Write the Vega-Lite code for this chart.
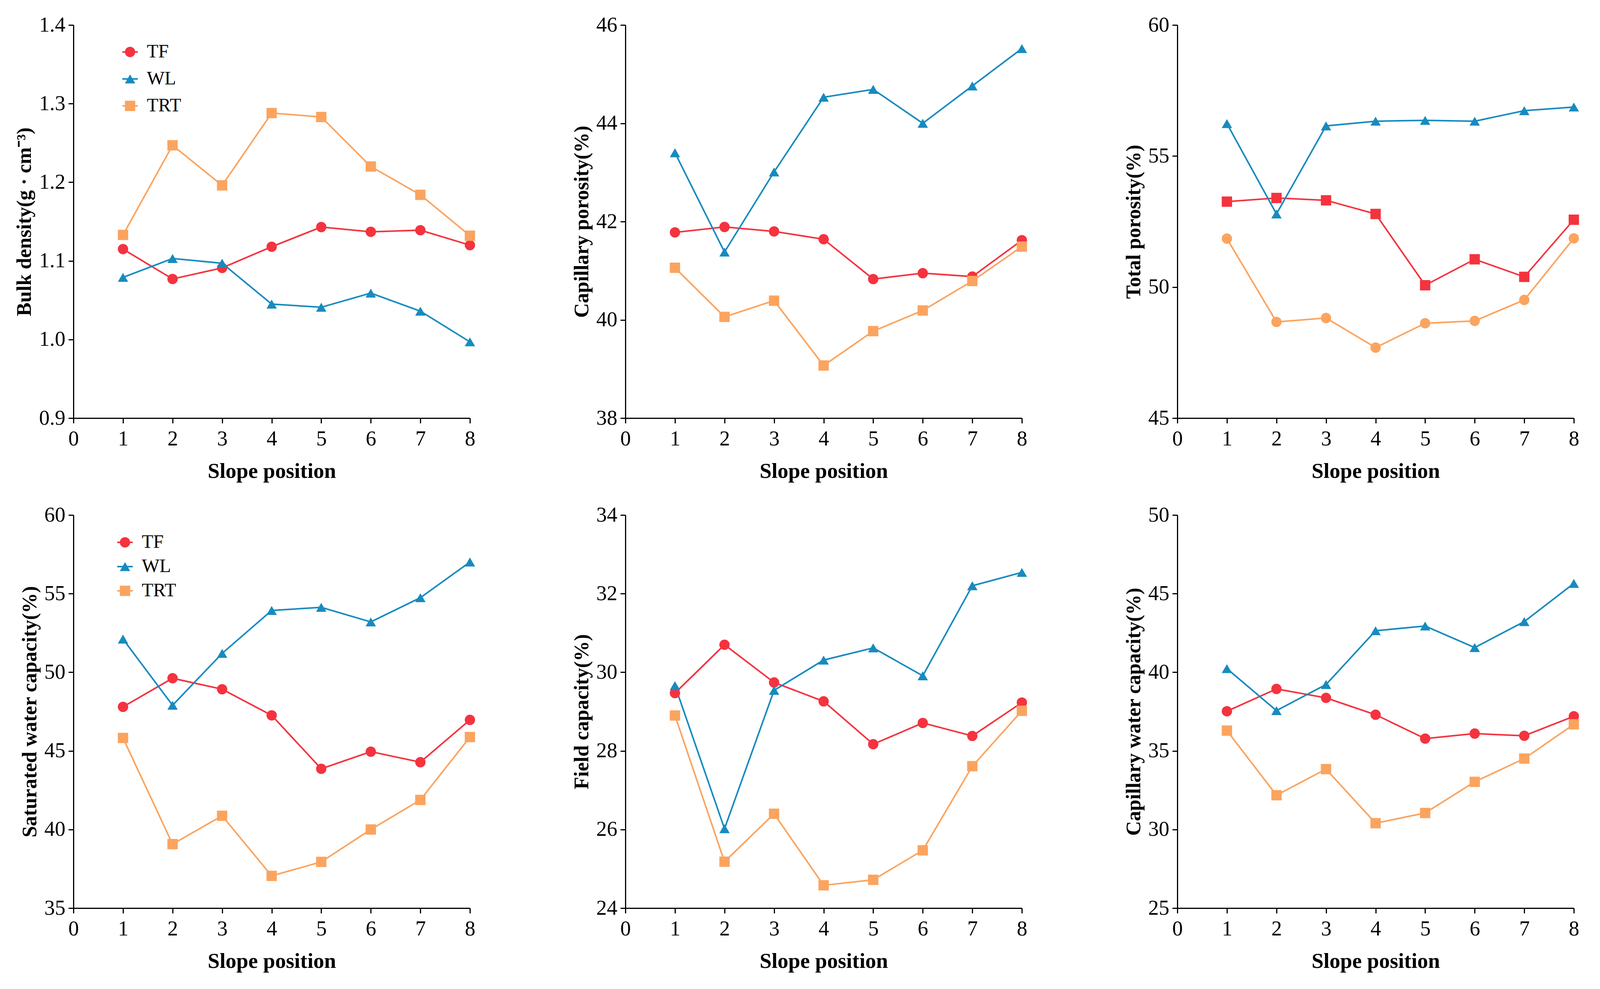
{
  "$schema": "https://vega.github.io/schema/vega-lite/v6.json",
  "padding": {"left": 36, "top": 37, "right": 5, "bottom": 5},
  "background": "white",
  "datasets": {
    "soil": [
      {"s": "TF", "x": 1, "bd": 1.115, "cp": 41.78, "tp": 53.26, "swc": 47.80, "fc": 29.47, "cwc": 37.52},
      {"s": "TF", "x": 2, "bd": 1.077, "cp": 41.89, "tp": 53.40, "swc": 49.62, "fc": 30.70, "cwc": 38.94},
      {"s": "TF", "x": 3, "bd": 1.091, "cp": 41.80, "tp": 53.31, "swc": 48.92, "fc": 29.74, "cwc": 38.37},
      {"s": "TF", "x": 4, "bd": 1.118, "cp": 41.64, "tp": 52.79, "swc": 47.26, "fc": 29.26, "cwc": 37.30},
      {"s": "TF", "x": 5, "bd": 1.143, "cp": 40.83, "tp": 50.07, "swc": 43.86, "fc": 28.17, "cwc": 35.78},
      {"s": "TF", "x": 6, "bd": 1.137, "cp": 40.95, "tp": 51.06, "swc": 44.95, "fc": 28.71, "cwc": 36.10},
      {"s": "TF", "x": 7, "bd": 1.139, "cp": 40.88, "tp": 50.39, "swc": 44.28, "fc": 28.38, "cwc": 35.96},
      {"s": "TF", "x": 8, "bd": 1.120, "cp": 41.62, "tp": 52.57, "swc": 46.97, "fc": 29.23, "cwc": 37.20},
      {"s": "WL", "x": 1, "bd": 1.079, "cp": 43.40, "tp": 56.24, "swc": 52.11, "fc": 29.66, "cwc": 40.23},
      {"s": "WL", "x": 2, "bd": 1.103, "cp": 41.38, "tp": 52.79, "swc": 47.90, "fc": 26.02, "cwc": 37.56},
      {"s": "WL", "x": 3, "bd": 1.097, "cp": 43.01, "tp": 56.15, "swc": 51.20, "fc": 29.54, "cwc": 39.22},
      {"s": "WL", "x": 4, "bd": 1.045, "cp": 44.53, "tp": 56.33, "swc": 53.93, "fc": 30.31, "cwc": 42.64},
      {"s": "WL", "x": 5, "bd": 1.041, "cp": 44.69, "tp": 56.36, "swc": 54.13, "fc": 30.62, "cwc": 42.94},
      {"s": "WL", "x": 6, "bd": 1.059, "cp": 44.00, "tp": 56.33, "swc": 53.20, "fc": 29.91, "cwc": 41.57},
      {"s": "WL", "x": 7, "bd": 1.036, "cp": 44.76, "tp": 56.73, "swc": 54.74, "fc": 32.20, "cwc": 43.22},
      {"s": "WL", "x": 8, "bd": 0.997, "cp": 45.52, "tp": 56.87, "swc": 57.01, "fc": 32.54, "cwc": 45.65},
      {"s": "TRT", "x": 1, "bd": 1.133, "cp": 41.06, "tp": 51.85, "swc": 45.82, "fc": 28.90, "cwc": 36.29},
      {"s": "TRT", "x": 2, "bd": 1.247, "cp": 40.06, "tp": 48.67, "swc": 39.07, "fc": 25.18, "cwc": 32.18},
      {"s": "TRT", "x": 3, "bd": 1.196, "cp": 40.39, "tp": 48.82, "swc": 40.87, "fc": 26.40, "cwc": 33.84},
      {"s": "TRT", "x": 4, "bd": 1.288, "cp": 39.07, "tp": 47.69, "swc": 37.05, "fc": 24.58, "cwc": 30.40},
      {"s": "TRT", "x": 5, "bd": 1.283, "cp": 39.77, "tp": 48.62, "swc": 37.94, "fc": 24.72, "cwc": 31.05},
      {"s": "TRT", "x": 6, "bd": 1.220, "cp": 40.19, "tp": 48.71, "swc": 40.00, "fc": 25.47, "cwc": 33.03},
      {"s": "TRT", "x": 7, "bd": 1.184, "cp": 40.79, "tp": 49.51, "swc": 41.88, "fc": 27.61, "cwc": 34.51},
      {"s": "TRT", "x": 8, "bd": 1.132, "cp": 41.49, "tp": 51.86, "swc": 45.88, "fc": 29.02, "cwc": 36.69}
    ]
  },
  "data": {"name": "soil"},
  "columns": 3,
  "spacing": {"row": 248, "column": 398},
  "bounds": "flush",
  "resolve": {
    "scale": {"x": "independent", "y": "independent", "shape": "independent", "color": "independent", "stroke": "independent"},
    "legend": {"color": "independent", "shape": "independent", "stroke": "independent"}
  },
  "concat": [
    {
      "width": 1015, "height": 1006,
      "resolve": {"scale": {"shape": "independent", "color": "independent"}, "legend": {"shape": "independent", "color": "independent"}},
      "layer": [
        {"transform": [{"filter": "false"}],
         "mark": {"type": "point", "filled": true, "size": 700, "opacity": 1, "strokeWidth": 0},
         "encoding": {
           "x": {"field": "x", "type": "quantitative", "scale": {"domain": [0, 8], "nice": false}, "axis": {"values": [0,1,2,3,4,5,6,7,8], "format": "d", "title": "Slope position"}},
           "y": {"field": "bd", "type": "quantitative", "scale": {"domain": [0.9, 1.4], "nice": false, "zero": false}, "axis": {"values": [0.9,1.0,1.1,1.2,1.3,1.4], "format": ".1f", "title": "Bulk density(g · cm⁻³)"}},
           "color": {"field": "s", "type": "nominal", "scale": {"domain": ["TF","WL","TRT"], "range": ["#f4333f","#178bbf","#fba45f"]},
             "legend": {"title": null, "orient": "none", "legendX": 121, "legendY": 45, "rowPadding": 21}},
           "shape": {"field": "s", "type": "nominal", "scale": {"domain": ["TF","WL","TRT"], "range": ["M1,0A1,1 0 1,1 -1,0A1,1 0 1,1 1,0ZM-1.5,-0.15H1.5V0.15H-1.5Z", "M0,-0.866L1,0.866L-1,0.866ZM-1.5,-0.15H1.5V0.15H-1.5Z", "M-1,-1H1V1H-1ZM-1.5,-0.15H1.5V0.15H-1.5Z"]},
             "legend": {"title": null, "orient": "none", "legendX": 121, "legendY": 45, "rowPadding": 21}}
         }},
        {"mark": {"type": "line", "strokeWidth": 4},
         "encoding": {
           "x": {"field": "x", "type": "quantitative"},
           "y": {"field": "bd", "type": "quantitative"},
           "stroke": {"field": "s", "type": "nominal", "scale": {"range": ["#f4333f","#fba45f","#178bbf"]}, "legend": null}
         }},
        {"mark": {"type": "point", "filled": true, "size": 700, "opacity": 1, "strokeWidth": 0},
         "encoding": {
           "x": {"field": "x", "type": "quantitative"},
           "y": {"field": "bd", "type": "quantitative"},
           "color": {"field": "s", "type": "nominal", "scale": {"domain": ["TF","WL","TRT"], "range": ["#f4333f","#178bbf","#fba45f"]}, "legend": null},
           "shape": {"field": "s", "type": "nominal", "scale": {"domain": ["TF","WL","TRT"], "range": ["circle","triangle-up","square"]}, "legend": null}
         }}
      ]
    },
    {
      "width": 1015, "height": 1006,
      "layer": [
        {"mark": {"type": "line", "strokeWidth": 4},
         "encoding": {
           "x": {"field": "x", "type": "quantitative", "scale": {"domain": [0, 8], "nice": false}, "axis": {"values": [0,1,2,3,4,5,6,7,8], "format": "d", "title": "Slope position"}},
           "y": {"field": "cp", "type": "quantitative", "scale": {"domain": [38, 46], "nice": false, "zero": false}, "axis": {"values": [38,40,42,44,46], "format": "d", "title": "Capillary porosity(%)"}},
           "stroke": {"field": "s", "type": "nominal", "scale": {"range": ["#f4333f","#fba45f","#178bbf"]}, "legend": null}
         }},
        {"mark": {"type": "point", "filled": true, "size": 700, "opacity": 1, "strokeWidth": 0},
         "encoding": {
           "x": {"field": "x", "type": "quantitative"},
           "y": {"field": "cp", "type": "quantitative"},
           "color": {"field": "s", "type": "nominal", "scale": {"domain": ["TF","WL","TRT"], "range": ["#f4333f","#178bbf","#fba45f"]}, "legend": null},
           "shape": {"field": "s", "type": "nominal", "scale": {"domain": ["TF","WL","TRT"], "range": ["circle","triangle-up","square"]}, "legend": null}
         }}
      ]
    },
    {
      "width": 1015, "height": 1006,
      "layer": [
        {"mark": {"type": "line", "strokeWidth": 4},
         "encoding": {
           "x": {"field": "x", "type": "quantitative", "scale": {"domain": [0, 8], "nice": false}, "axis": {"values": [0,1,2,3,4,5,6,7,8], "format": "d", "title": "Slope position"}},
           "y": {"field": "tp", "type": "quantitative", "scale": {"domain": [45, 60], "nice": false, "zero": false}, "axis": {"values": [45,50,55,60], "format": "d", "title": "Total porosity(%)"}},
           "stroke": {"field": "s", "type": "nominal", "scale": {"range": ["#f4333f","#fba45f","#178bbf"]}, "legend": null}
         }},
        {"mark": {"type": "point", "filled": true, "size": 700, "opacity": 1, "strokeWidth": 0},
         "encoding": {
           "x": {"field": "x", "type": "quantitative"},
           "y": {"field": "tp", "type": "quantitative"},
           "color": {"field": "s", "type": "nominal", "scale": {"domain": ["TF","WL","TRT"], "range": ["#f4333f","#178bbf","#fba45f"]}, "legend": null},
           "shape": {"field": "s", "type": "nominal", "scale": {"domain": ["TF","WL","TRT"], "range": ["square","triangle-up","circle"]}, "legend": null}
         }}
      ]
    },
    {
      "width": 1015, "height": 1006,
      "resolve": {"scale": {"shape": "independent", "color": "independent"}, "legend": {"shape": "independent", "color": "independent"}},
      "layer": [
        {"transform": [{"filter": "false"}],
         "mark": {"type": "point", "filled": true, "size": 700, "opacity": 1, "strokeWidth": 0},
         "encoding": {
           "x": {"field": "x", "type": "quantitative", "scale": {"domain": [0, 8], "nice": false}, "axis": {"values": [0,1,2,3,4,5,6,7,8], "format": "d", "title": "Slope position"}},
           "y": {"field": "swc", "type": "quantitative", "scale": {"domain": [35, 60], "nice": false, "zero": false}, "axis": {"values": [35,40,45,50,55,60], "format": "d", "title": "Saturated water capacity(%)"}},
           "color": {"field": "s", "type": "nominal", "scale": {"domain": ["TF","WL","TRT"], "range": ["#f4333f","#178bbf","#fba45f"]},
             "legend": {"title": null, "orient": "none", "legendX": 108, "legendY": 46, "rowPadding": 14}},
           "shape": {"field": "s", "type": "nominal", "scale": {"domain": ["TF","WL","TRT"], "range": ["M1,0A1,1 0 1,1 -1,0A1,1 0 1,1 1,0ZM-1.5,-0.15H1.5V0.15H-1.5Z", "M0,-0.866L1,0.866L-1,0.866ZM-1.5,-0.15H1.5V0.15H-1.5Z", "M-1,-1H1V1H-1ZM-1.5,-0.15H1.5V0.15H-1.5Z"]},
             "legend": {"title": null, "orient": "none", "legendX": 108, "legendY": 46, "rowPadding": 14}}
         }},
        {"mark": {"type": "line", "strokeWidth": 4},
         "encoding": {
           "x": {"field": "x", "type": "quantitative"},
           "y": {"field": "swc", "type": "quantitative"},
           "stroke": {"field": "s", "type": "nominal", "scale": {"range": ["#f4333f","#fba45f","#178bbf"]}, "legend": null}
         }},
        {"mark": {"type": "point", "filled": true, "size": 700, "opacity": 1, "strokeWidth": 0},
         "encoding": {
           "x": {"field": "x", "type": "quantitative"},
           "y": {"field": "swc", "type": "quantitative"},
           "color": {"field": "s", "type": "nominal", "scale": {"domain": ["TF","WL","TRT"], "range": ["#f4333f","#178bbf","#fba45f"]}, "legend": null},
           "shape": {"field": "s", "type": "nominal", "scale": {"domain": ["TF","WL","TRT"], "range": ["circle","triangle-up","square"]}, "legend": null}
         }}
      ]
    },
    {
      "width": 1015, "height": 1006,
      "layer": [
        {"mark": {"type": "line", "strokeWidth": 4},
         "encoding": {
           "x": {"field": "x", "type": "quantitative", "scale": {"domain": [0, 8], "nice": false}, "axis": {"values": [0,1,2,3,4,5,6,7,8], "format": "d", "title": "Slope position"}},
           "y": {"field": "fc", "type": "quantitative", "scale": {"domain": [24, 34], "nice": false, "zero": false}, "axis": {"values": [24,26,28,30,32,34], "format": "d", "title": "Field capacity(%)"}},
           "stroke": {"field": "s", "type": "nominal", "scale": {"range": ["#f4333f","#fba45f","#178bbf"]}, "legend": null}
         }},
        {"mark": {"type": "point", "filled": true, "size": 700, "opacity": 1, "strokeWidth": 0},
         "encoding": {
           "x": {"field": "x", "type": "quantitative"},
           "y": {"field": "fc", "type": "quantitative"},
           "color": {"field": "s", "type": "nominal", "scale": {"domain": ["TF","WL","TRT"], "range": ["#f4333f","#178bbf","#fba45f"]}, "legend": null},
           "shape": {"field": "s", "type": "nominal", "scale": {"domain": ["TF","WL","TRT"], "range": ["circle","triangle-up","square"]}, "legend": null}
         }}
      ]
    },
    {
      "width": 1015, "height": 1006,
      "layer": [
        {"mark": {"type": "line", "strokeWidth": 4},
         "encoding": {
           "x": {"field": "x", "type": "quantitative", "scale": {"domain": [0, 8], "nice": false}, "axis": {"values": [0,1,2,3,4,5,6,7,8], "format": "d", "title": "Slope position"}},
           "y": {"field": "cwc", "type": "quantitative", "scale": {"domain": [25, 50], "nice": false, "zero": false}, "axis": {"values": [25,30,35,40,45,50], "format": "d", "title": "Capillary water capacity(%)"}},
           "stroke": {"field": "s", "type": "nominal", "scale": {"range": ["#f4333f","#fba45f","#178bbf"]}, "legend": null}
         }},
        {"mark": {"type": "point", "filled": true, "size": 700, "opacity": 1, "strokeWidth": 0},
         "encoding": {
           "x": {"field": "x", "type": "quantitative"},
           "y": {"field": "cwc", "type": "quantitative"},
           "color": {"field": "s", "type": "nominal", "scale": {"domain": ["TF","WL","TRT"], "range": ["#f4333f","#178bbf","#fba45f"]}, "legend": null},
           "shape": {"field": "s", "type": "nominal", "scale": {"domain": ["TF","WL","TRT"], "range": ["circle","triangle-up","square"]}, "legend": null}
         }}
      ]
    }
  ],
  "config": {
    "view": {"stroke": null},
    "font": "Liberation Serif",
    "axis": {
      "grid": false,
      "domainColor": "black", "domainWidth": 3,
      "tickColor": "black", "tickWidth": 3, "tickSize": 13,
      "labelFont": "Liberation Serif", "labelFontSize": 54, "labelColor": "black",
      "labelFlush": false, "labelOverlap": false, "labelBound": false,
      "titleFont": "Liberation Serif", "titleFontWeight": "bold", "titleColor": "black"
    },
    "axisX": {"labelPadding": 13, "titlePadding": 29, "titleFontSize": 55},
    "axisY": {"labelPadding": 8, "titlePadding": 10, "titleFontSize": 52},
    "legend": {
      "labelFont": "Liberation Serif", "labelFontSize": 48, "labelColor": "black",
      "symbolSize": 700, "labelOffset": 19, "padding": 0, "symbolStrokeWidth": 0
    }
  }
}
